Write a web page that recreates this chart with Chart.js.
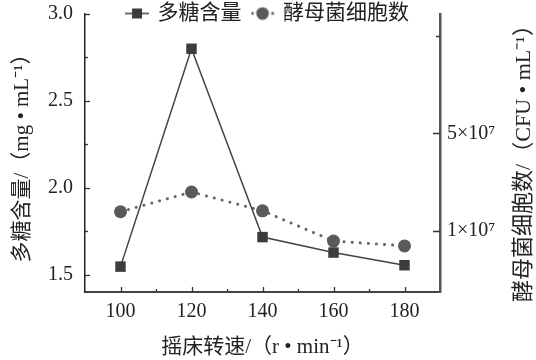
<!DOCTYPE html>
<html><head><meta charset="utf-8">
<script src="https://cdn.jsdelivr.net/npm/chart.js@4/dist/chart.umd.min.js"></script>
<style>html,body{margin:0;padding:0;background:#fff}#wrap{width:536px;height:360px}</style>
</head><body><div id="wrap"><canvas id="c" width="536" height="360"></canvas></div>
<script>
// ---- data ----
const speeds = [100, 120, 140, 160, 180];
const polysaccharide = [1.546, 2.80, 1.716, 1.627, 1.554];
const yeastCells = [1.79e7, 2.60e7, 1.83e7, 0.59e7, 0.39e7];
const seriesNames = ['多糖含量', '酵母菌细胞数'];
const xTickValues = [100, 110, 120, 130, 140, 150, 160, 170, 180];
const xTickLabels = ['100', '', '120', '', '140', '', '160', '', '180'];
const leftTickValues = [1.5, 1.75, 2.0, 2.25, 2.5, 2.75, 3.0];
const leftTickLabels = ['1.5', '', '2.0', '', '2.5', '', '3.0'];
const rightTickValues = [1e7, 5e7, 9e7];
const rightTickLabels = ['1×10⁷', '5×10⁷', ''];
const xTitle = '摇床转速/（r • min⁻¹）';
const leftTitle = '多糖含量/（mg • mL⁻¹）';
const rightTitle = '酵母菌细胞数/（CFU • mL⁻¹）';

const FONT = "'Liberation Serif','Noto Sans CJK SC',serif";
const TXT = '#222';
const C1 = '#3c3c3c';
const C2 = '#5a5a5a';

function icon(kind) {
  const c = document.createElement('canvas');
  c.width = 24; c.height = 14;
  const g = c.getContext('2d');
  if (kind === 0) {
    g.strokeStyle = C1; g.lineWidth = 1.5;
    g.beginPath(); g.moveTo(0, 7); g.lineTo(24, 7); g.stroke();
    g.fillStyle = C1; g.fillRect(7, 2, 10, 10);
  } else {
    g.fillStyle = C2;
    [2, 22].forEach(x => { g.beginPath(); g.arc(x, 7, 1.4, 0, Math.PI * 2); g.fill(); });
    g.beginPath(); g.arc(12, 7, 6.3, 0, Math.PI * 2); g.fill();
  }
  return c;
}
const icons = [icon(0), icon(1)];

function noPad(s) { s.paddingTop = 0; s.paddingBottom = 0; s.paddingLeft = 0; s.paddingRight = 0; }

const innerTicks = {
  id: 'innerTicks',
  afterLayout(chart) {
    const lg = chart.legend;
    if (lg) { lg.height = 50; lg.bottom = lg.top + 50; }
  },
  afterDatasetsDraw(chart) {
    const ctx = chart.ctx, a = chart.chartArea;
    ctx.save();
    const sx = chart.scales.x, sl = chart.scales.y, sr = chart.scales.y1;
    ctx.strokeStyle = '#333'; ctx.lineWidth = 1.3;
    sx.ticks.forEach(t => {
      const p = Math.round(sx.getPixelForValue(t.value)) + 0.5;
      const len = t.label ? 5 : 3;
      ctx.beginPath(); ctx.moveTo(p, a.bottom); ctx.lineTo(p, a.bottom - len); ctx.stroke();
    });
    sl.ticks.forEach(t => {
      const p = Math.round(sl.getPixelForValue(t.value)) + 0.5;
      const len = t.label ? 5 : 3;
      ctx.beginPath(); ctx.moveTo(a.left, p); ctx.lineTo(a.left + len, p); ctx.stroke();
    });
    ctx.lineWidth = 1.5;
    sr.ticks.forEach(t => {
      const p = Math.round(sr.getPixelForValue(t.value)) + 0.5;
      const len = t.label ? 7 : 4;
      ctx.beginPath(); ctx.moveTo(a.right, p); ctx.lineTo(a.right - len, p); ctx.stroke();
    });
    ctx.restore();
  },
  afterDraw(chart) {
    const ctx = chart.ctx, sr = chart.scales.y1;
    ctx.save();
    ctx.translate(sr.right - 12, (sr.top + sr.bottom) / 2 + 5);
    ctx.rotate(-Math.PI / 2);
    ctx.font = '22px ' + FONT;
    ctx.fillStyle = TXT; ctx.textAlign = 'center'; ctx.textBaseline = 'middle';
    ctx.fillText(rightTitle, 0, 0);
    ctx.restore();
  }
};

new Chart(document.getElementById('c'), {
  type: 'line',
  data: {
    datasets: [
      {
        label: seriesNames[0],
        data: speeds.map((s, i) => ({ x: s, y: polysaccharide[i] })),
        yAxisID: 'y',
        borderColor: '#444', borderWidth: 1.5,
        pointStyle: 'rect', pointRadius: 7.4, pointBackgroundColor: C1, pointBorderColor: C1, pointBorderWidth: 0,
        tension: 0
      },
      {
        label: seriesNames[1],
        data: speeds.map((s, i) => ({ x: s, y: yeastCells[i] })),
        yAxisID: 'y1',
        borderColor: '#666', borderWidth: 3, borderDash: [0.1, 8], borderCapStyle: 'round',
        pointStyle: 'circle', pointRadius: 6.5, pointBackgroundColor: C2, pointBorderColor: C2, pointBorderWidth: 0,
        tension: 0
      }
    ]
  },
  options: {
    responsive: false,
    devicePixelRatio: 1,
    animation: false,
    layout: { padding: { top: -8, left: 0, right: 0, bottom: 0 }, autoPadding: false },
    plugins: {
      tooltip: { enabled: false },
      legend: {
        position: 'top', align: 'center', maxHeight: 22,
        labels: {
          usePointStyle: true, pointStyleWidth: 20, padding: 11,
          font: { size: 21, family: FONT }, color: TXT,
          generateLabels: (chart) => chart.data.datasets.map((ds, i) => ({
            text: ds.label, pointStyle: icons[i], fillStyle: 'rgba(0,0,0,0)', strokeStyle: 'rgba(0,0,0,0)',
            lineWidth: 0, datasetIndex: i, hidden: false, fontColor: TXT
          }))
        }
      }
    },
    scales: {
      x: {
        type: 'linear', min: 90, max: 190,
        afterBuildTicks: s => { s.ticks = xTickValues.map(v => ({ value: v })); },
        afterFit: s => { s.height = 68; noPad(s); },
        ticks: { autoSkip: false, maxRotation: 0, padding: 8, color: TXT, font: { size: 20, family: FONT },
          callback: v => xTickLabels[xTickValues.indexOf(v)] },
        grid: { display: false, drawTicks: false },
        border: { display: true, color: '#444', width: 2 },
        title: { display: true, text: xTitle, color: TXT, font: { size: 21, family: FONT }, padding: { top: 0, bottom: 0 } }
      },
      y: {
        type: 'linear', position: 'left', min: 1.4, max: 3.0,
        afterBuildTicks: s => { s.ticks = leftTickValues.map(v => ({ value: v })); },
        afterFit: s => { s.width = 85; noPad(s); },
        ticks: { autoSkip: false, padding: 12, color: TXT, font: { size: 20, family: FONT },
          callback: v => leftTickLabels[leftTickValues.indexOf(v)] },
        grid: { display: false, drawTicks: false },
        border: { display: true, color: '#222', width: 1.5 },
        title: { display: true, text: leftTitle, color: TXT, font: { size: 21, family: FONT }, padding: { top: 10, bottom: 0 } }
      },
      y1: {
        type: 'linear', position: 'right', min: -1.5e7, max: 9.9e7,
        afterBuildTicks: s => { s.ticks = rightTickValues.map(v => ({ value: v })); },
        afterFit: s => { s.width = 96; noPad(s); },
        ticks: { autoSkip: false, padding: 7, color: TXT, font: { size: 20, family: FONT },
          callback: v => rightTickLabels[rightTickValues.indexOf(v)] },
        grid: { display: false, drawTicks: false },
        border: { display: true, color: '#555', width: 2.5 },
        title: { display: false }
      }
    }
  },
  plugins: [innerTicks]
});
</script></body></html>
